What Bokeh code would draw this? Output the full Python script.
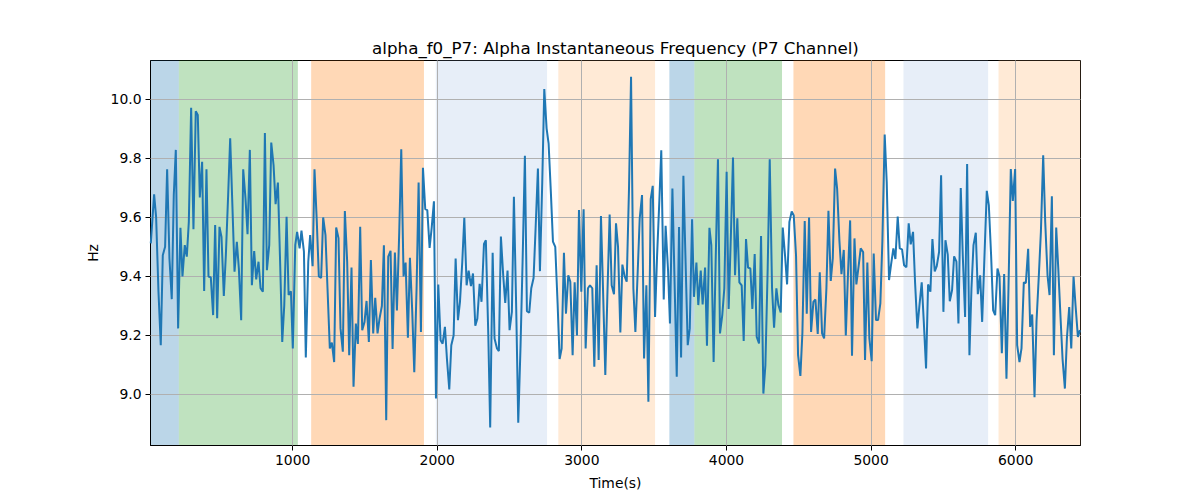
from bokeh.plotting import figure
from bokeh.models import Range1d, FixedTicker, NumeralTickFormatter
from bokeh.embed import file_html
from bokeh.resources import INLINE

times = [19, 42, 56, 72, 88, 102, 118, 132, 148, 164, 178, 192, 208, 224, 238, 254, 268, 282, 298, 314,
         330, 344, 358, 374, 388, 404, 418, 434, 450, 464, 478, 494, 508, 524, 538, 554, 568, 584, 598, 614,
         628, 644, 658, 674, 688, 704, 718, 734, 748, 764, 778,
         794, 808, 822, 838, 852, 868, 882, 898, 912, 928, 942, 958, 972, 988, 1001, 1018, 1031, 1048, 1061, 1078,
         1091, 1108, 1121, 1138, 1151, 1167, 1181, 1197, 1211, 1227, 1241, 1257, 1271, 1287, 1301, 1317, 1331, 1347,
         1361, 1377, 1391, 1407, 1421, 1437, 1451, 1467, 1481, 1497, 1511, 1527, 1541, 1557, 1571, 1587, 1601,
         1617, 1631, 1647, 1661, 1677, 1691, 1707, 1721, 1737, 1751, 1767, 1781, 1797, 1811, 1827, 1841, 1857, 1871,
         1887, 1901, 1917, 1931, 1947, 1961, 1977, 1991, 2007, 2023, 2037, 2053, 2067, 2083, 2097, 2113, 2127, 2143,
         2157, 2173, 2187, 2203, 2217, 2233, 2247, 2263, 2277, 2293, 2306, 2323, 2336, 2353, 2366, 2383, 2396, 2413, 2426,
         2440, 2456, 2470, 2486, 2500, 2516, 2530, 2546, 2560, 2576, 2590, 2606, 2620, 2636, 2650, 2666, 2680, 2696,
         2710, 2726, 2740, 2756, 2770, 2786, 2800, 2816, 2832, 2846, 2860, 2876, 2890, 2906, 2920, 2936, 2950, 2966,
         2980, 2996, 3012, 3026, 3042, 3056, 3072, 3086, 3102, 3116, 3132, 3146, 3162, 3176, 3192, 3206, 3222, 3236,
         3250, 3266, 3280, 3296, 3310, 3326, 3340, 3356, 3370, 3386, 3400, 3416, 3430, 3446, 3460, 3476, 3490, 3506,
         3520, 3536, 3549, 3566, 3579, 3596, 3609, 3626, 3642, 3656, 3672, 3686, 3702, 3716, 3732, 3746, 3762, 3775,
         3792, 3805, 3822, 3835, 3852, 3865, 3882, 3895, 3911, 3925, 3941, 3955, 3971, 3985, 4001, 4015, 4031, 4045,
         4059, 4075, 4089, 4105, 4119, 4135, 4149, 4165, 4179, 4195, 4209, 4225, 4239, 4255, 4269, 4285, 4299, 4315,
         4329, 4345, 4359, 4375, 4389, 4405, 4419, 4435, 4451, 4465, 4481, 4495, 4511, 4525, 4541, 4555, 4571, 4585,
         4601, 4615, 4631, 4645, 4661, 4675, 4691, 4705, 4721, 4735, 4751, 4765, 4781, 4795, 4811, 4825, 4841, 4855,
         4868, 4885, 4898, 4915, 4928, 4945, 4958, 4974, 4988, 5004, 5018, 5034, 5048, 5064, 5078, 5094, 5108, 5124,
         5138, 5154, 5168, 5184, 5198, 5214, 5228, 5244, 5260, 5274, 5290, 5304, 5320, 5334, 5350, 5364, 5380, 5394,
         5410, 5424, 5440, 5454, 5470, 5484, 5500, 5514, 5530, 5544, 5560, 5574, 5590, 5604, 5620, 5634, 5650, 5664,
         5680, 5694, 5708, 5724, 5738, 5754, 5768, 5784, 5800, 5814, 5830, 5844, 5858, 5874, 5888, 5904, 5920, 5936,
         5950, 5966, 5980, 5996, 6010, 6026, 6040, 6056, 6070, 6086, 6100, 6114, 6130, 6144, 6160, 6174, 6190, 6204,
         6220, 6234, 6250, 6264, 6280, 6294, 6310, 6324, 6340, 6354, 6370, 6384, 6400, 6414, 6430, 6444]

freq = [9.512, 9.678, 9.60, 9.35, 9.167, 9.472, 9.501, 9.763, 9.461, 9.323, 9.676, 9.829, 9.224, 9.565, 9.40, 9.506,
        9.467, 9.585, 9.972, 9.560, 9.960, 9.947, 9.668, 9.789, 9.351, 9.763, 9.40, 9.397, 9.269, 9.574, 9.258, 9.568,
        9.534, 9.334, 9.472, 9.676, 9.868, 9.630, 9.416, 9.517, 9.427, 9.252, 9.763, 9.664, 9.543, 9.829, 9.37, 9.486,
        9.39, 9.45, 9.36,
        9.348, 9.886, 9.421, 9.506, 9.854, 9.777, 9.645, 9.718, 9.472, 9.178, 9.303, 9.602, 9.337, 9.35, 9.156, 9.506,
        9.551, 9.495, 9.555, 9.484, 9.125, 9.45, 9.54, 9.435, 9.763, 9.585, 9.40, 9.395, 9.60, 9.54, 9.359, 9.156,
        9.176, 9.11, 9.566, 9.53, 9.224, 9.145, 9.622, 9.45, 9.133, 9.43, 9.026, 9.24, 9.171, 9.568, 9.218, 9.246,
        9.317, 9.178, 9.456, 9.207, 9.328, 9.207, 9.258,
        9.30, 9.506, 8.913, 9.467, 9.487, 9.154, 9.481, 9.285, 9.55, 9.831, 9.40, 9.447, 9.192, 9.463, 9.28, 9.075,
        9.36, 9.718, 9.212, 9.768, 9.628, 9.625, 9.497, 9.563, 9.655, 8.986, 9.373, 9.184, 9.172, 9.229, 9.12, 9.017,
        9.167, 9.20, 9.461, 9.252, 9.314, 9.45, 9.599, 9.37, 9.42, 9.367, 9.41, 9.233, 9.257, 9.375, 9.314, 9.51,
        9.523, 9.20, 8.888, 9.48, 9.19, 9.156, 9.147,
        9.535, 9.404, 9.31, 9.42, 9.218, 9.28, 9.67, 9.29, 8.904, 9.167, 9.45, 9.809, 9.282, 9.277, 9.36, 9.395,
        9.563, 9.766, 9.418, 9.72, 10.035, 9.902, 9.85, 9.68, 9.518, 9.50, 9.31, 9.12, 9.156, 9.48, 9.274, 9.404,
        9.382, 9.133, 9.38, 9.20, 9.625, 9.348, 9.628, 9.156, 9.36, 9.37, 9.36, 9.094, 9.438, 9.117, 9.605, 9.36,
        9.066, 9.33, 9.61, 9.37, 9.34, 9.58,
        9.50, 9.21, 9.44, 9.40, 9.382, 9.70, 10.077, 9.36, 9.212, 9.416, 9.597, 9.676, 9.122, 9.37, 8.975, 9.662,
        9.707, 9.263, 9.47, 9.66, 9.828, 9.322, 9.572, 9.42, 9.241, 9.698, 9.36, 9.06, 9.568, 9.125, 9.741, 9.47,
        9.167, 9.224, 9.594, 9.331, 9.447, 9.303, 9.42, 9.305, 9.43, 9.165, 9.565, 9.506, 9.11, 9.45, 9.797, 9.207,
        9.27, 9.36, 9.755, 9.29, 9.55, 9.803,
        9.404, 9.597, 9.38, 9.37, 9.181, 9.527, 9.43, 9.427, 9.29, 9.476, 9.195, 9.173, 9.537, 9.003, 9.099, 9.43,
        9.797, 9.36, 9.226, 9.36, 9.303, 9.278, 9.566, 9.47, 9.373, 9.585, 9.62, 9.607, 9.47, 9.133, 9.063, 9.21,
        9.588, 9.274, 9.60, 9.212, 9.314, 9.322, 9.205, 9.414, 9.207, 9.19, 9.36, 9.623, 9.385, 9.461, 9.766, 9.698,
        9.52, 9.408, 9.49, 9.20, 9.42, 9.59,
        9.131, 9.529, 9.373, 9.44, 9.495, 9.483, 9.117, 9.447, 9.19, 9.113, 9.478, 9.252, 9.252, 9.309, 9.52, 9.881,
        9.72, 9.388, 9.44, 9.495, 9.459, 9.603, 9.495, 9.492, 9.438, 9.431, 9.58, 9.509, 9.551, 9.38, 9.224, 9.30,
        9.38, 9.25, 9.088, 9.373, 9.348, 9.527, 9.417, 9.435, 9.483, 9.743, 9.28, 9.523, 9.474, 9.316, 9.354, 9.468,
        9.45, 9.241, 9.70, 9.47, 9.263, 9.781,
        9.133, 9.36, 9.506, 9.548, 9.34, 9.404, 9.246, 9.47, 9.69, 9.642, 9.47, 9.285, 9.269, 9.427, 9.40, 9.14,
        9.408, 9.053, 9.36, 9.764, 9.656, 9.764, 9.167, 9.11, 9.156, 9.38, 9.378, 9.494, 9.229, 9.271, 8.991, 9.25,
        9.404, 9.55, 9.811, 9.585, 9.404, 9.337, 9.672, 9.133, 9.566, 9.43, 9.26, 9.12, 9.02, 9.19, 9.296, 9.156,
        9.40, 9.30, 9.195, 9.218]

span_starts = [0, 213, 1128, 1990, 2837, 3605, 3778, 4463, 5224, 5881]
span_ends = [213, 1036, 1908, 2759, 3506, 3778, 4384, 5097, 5809, 6460]
span_colors = ["#1f77b4", "#2ca02c", "#ff7f0e", "#aec7e8", "#ffbb78",
               "#1f77b4", "#2ca02c", "#ff7f0e", "#aec7e8", "#ffbb78"]

x_ticks = [1000, 2000, 3000, 4000, 5000, 6000]
y_ticks = [9.0, 9.2, 9.4, 9.6, 9.8, 10.0]

FONT = "DejaVu Sans"

p = figure(frame_width=930, frame_height=385,
           min_border_left=150, min_border_right=120, min_border_top=60, min_border_bottom=55,
           x_range=Range1d(17, 6448), y_range=Range1d(8.827, 10.132),
           output_backend="svg", toolbar_location=None,
           title="alpha_f0_P7: Alpha Instantaneous Frequency (P7 Channel)")

p.quad(left=span_starts, right=span_ends, bottom=8.0, top=11.0,
       fill_color=span_colors, fill_alpha=0.3, line_color=None)

p.xgrid.level = "annotation"
p.ygrid.level = "annotation"
for g in (p.xgrid, p.ygrid):
    g.grid_line_color = "#b0b0b0"
    g.grid_line_width = 1

line = p.line(times, freq, line_color="#1f77b4", line_width=2)
line.level = "overlay"

p.title.align = "center"
p.title.text_font = FONT
p.title.text_font_size = "16.7px"
p.title.text_font_style = "normal"
p.title.text_color = "black"
p.title.offset = 0
p.title.standoff = 6

p.xaxis.ticker = FixedTicker(ticks=x_ticks)
p.yaxis.ticker = FixedTicker(ticks=y_ticks)
p.yaxis.formatter = NumeralTickFormatter(format="0.0")
p.xaxis.axis_label = "Time(s)"
p.yaxis.axis_label = "Hz"

for ax in (p.xaxis, p.yaxis):
    ax.axis_label_text_font = FONT
    ax.axis_label_text_font_size = "13.9px"
    ax.axis_label_text_font_style = "normal"
    ax.axis_label_text_color = "black"
    ax.major_label_text_font = FONT
    ax.major_label_text_font_size = "13.9px"
    ax.major_label_text_color = "black"
    ax.major_tick_out = 5
    ax.major_tick_in = 0
    ax.minor_tick_out = 0
    ax.minor_tick_in = 0
    ax.major_tick_line_color = "black"
    ax.axis_line_color = "black"
    ax.major_label_standoff = 4
    ax.axis_label_standoff = 7

p.outline_line_color = "black"
p.outline_line_width = 1
p.outline_line_alpha = 1
p.background_fill_color = "white"
p.border_fill_color = "white"

open("out.html", "w").write(file_html(p, INLINE))
